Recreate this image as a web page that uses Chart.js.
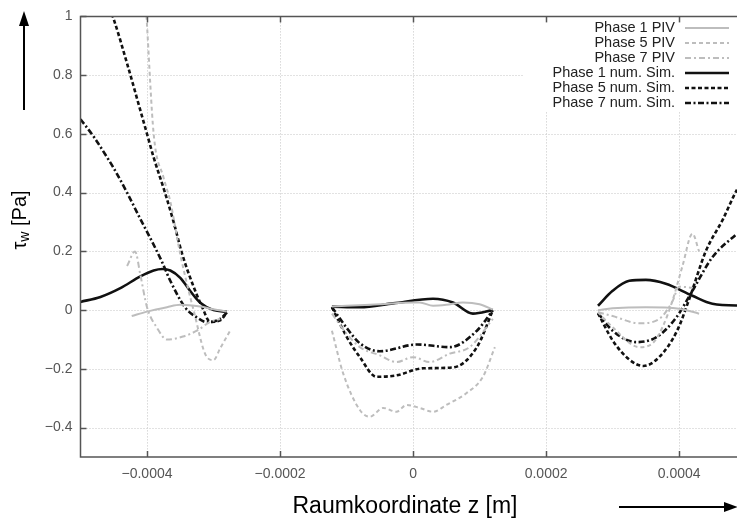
<!DOCTYPE html>
<html>
<head>
<meta charset="utf-8">
<script src="https://cdn.jsdelivr.net/npm/chart.js@4.4.1/dist/chart.umd.min.js"></script>
<style>
  html, body { margin: 0; padding: 0; background: #fff; }
  #wrap { width: 737px; height: 520px; position: relative; }
</style>
</head>
<body>
<div id="wrap"><canvas id="tau-chart"></canvas></div>
<script>
// Achsen-Ticks
const xTicks = [-0.0004, -0.0002, 0, 0.0002, 0.0004];
const yTicks = [-0.4, -0.2, 0, 0.2, 0.4, 0.6, 0.8, 1];

// Legende
const seriesNames = ["Phase 1 PIV", "Phase 5 PIV", "Phase 7 PIV",
                     "Phase 1 num. Sim.", "Phase 5 num. Sim.", "Phase 7 num. Sim."];

// Messwerte (z in m, tau in Pa), null = Lücke zwischen den Abschnitten
const piv1Z   = [-0.000423, -0.0004, -0.00037, -0.00035, -0.00032, -0.0003, -0.00028, null,
                 -0.000122, -0.0001, -0.00005, 0, 0.00001, 0.00003, 0.00005, 0.000075, 0.0001, 0.00012, null,
                 0.000278, 0.0003, 0.00035, 0.0004, 0.00043];
const piv1Tau = [-0.02, -0.005, 0.01, 0.018, 0.012, 0.003, -0.005, null,
                 0.012, 0.015, 0.02, 0.026, 0.026, 0.015, 0.018, 0.026, 0.02, 0.002, null,
                 0, 0.006, 0.01, 0.005, -0.012];

const piv5Z   = [-0.000402, -0.0004, -0.00039, -0.000375, -0.000365, -0.00035, -0.00033, -0.00031, -0.0003, -0.00029, -0.000275, null,
                 -0.000122, -0.000105, -0.00008, -0.000065, -0.000045, -0.000025, -0.00001, 0.00001, 0.00003, 0.00005, 0.00008, 0.000105, 0.000123, null,
                 0.000278, 0.0003, 0.00034, 0.00036, 0.000375, 0.00039, 0.000405, 0.00042, 0.00043];
const piv5Tau = [1.05, 0.97, 0.6, 0.45, 0.37, 0.19, 0.0, -0.16, -0.17, -0.13, -0.07, null,
                 -0.07, -0.216, -0.34, -0.363, -0.333, -0.346, -0.323, -0.333, -0.346, -0.323, -0.283, -0.227, -0.126, null,
                 -0.007, -0.058, -0.126, -0.113, -0.058, 0.032, 0.15, 0.26, 0.2];

const piv7Z   = [-0.00043, -0.000418, -0.00041, -0.0004, -0.000385, -0.00037, -0.000346, -0.000325, -0.000305, -0.00029, null,
                 -0.000122, -0.0001, -0.00008, -0.00005, -0.000025, 0, 0.000025, 0.000055, 0.000085, 0.00012, null,
                 0.000278, 0.0003, 0.00034, 0.00037, 0.00039, 0.0004, 0.00042];
const piv7Tau = [0.15, 0.2, 0.12, 0.01, -0.06, -0.1, -0.09, -0.07, -0.04, -0.03, null,
                 -0.012, -0.08, -0.126, -0.154, -0.177, -0.16, -0.177, -0.148, -0.126, -0.03, null,
                 -0.007, -0.02, -0.045, -0.03, 0.03, 0.08, 0.076];

// Simulation
const sim1Z   = [-0.0005, -0.00047, -0.00044, -0.00041, -0.00039, -0.000377, -0.000365, -0.00035, -0.000335, -0.00032, -0.0003, -0.00028, null,
                 -0.000122, -0.00008, -0.00003, 0.00003, 0.00006, 0.00009, 0.00012, null,
                 0.000278, 0.0003, 0.000325, 0.00035, 0.00038, 0.00042, 0.00045, 0.0005];
const sim1Tau = [0.028, 0.045, 0.075, 0.115, 0.135, 0.14, 0.135, 0.11, 0.065, 0.025, 0.0, -0.005, null,
                 0.012, 0.01, 0.023, 0.039, 0.026, -0.012, 0.0, null,
                 0.015, 0.066, 0.1, 0.103, 0.09, 0.049, 0.022, 0.015];

const sim5Z   = [-0.00046, -0.00045, -0.00043, -0.00041, -0.0004, -0.00039, -0.000373, -0.00036, -0.000347, -0.00033, -0.000317, -0.000305, -0.00029, -0.00028, null,
                 -0.000122, -0.0001, -0.00008, -0.000055, -0.000025, 0.000015, 0.00006, 0.000096, 0.00012, null,
                 0.000278, 0.0003, 0.000326, 0.000346, 0.00037, 0.000397, 0.000416, 0.00044, 0.000466, 0.000487, 0.0005];
const sim5Tau = [1.05, 0.99, 0.84, 0.68, 0.6, 0.52, 0.4, 0.3, 0.19, 0.08, 0.01, -0.04, -0.035, -0.008, null,
                 0.01, -0.09, -0.16, -0.227, -0.222, -0.198, -0.195, -0.126, 0.0, null,
                 -0.01, -0.103, -0.17, -0.19, -0.16, -0.07, 0.043, 0.2, 0.31, 0.41, 0.45];

const sim7Z   = [-0.0005, -0.00048, -0.00046, -0.00045, -0.00043, -0.00041, -0.000398, -0.000378, -0.000365, -0.000343, -0.000325, -0.00031, -0.00029, -0.00028, null,
                 -0.000122, -0.0001, -0.00008, -0.00005, 0.000006, 0.000055, 0.000096, 0.00012, null,
                 0.000278, 0.0003, 0.000336, 0.000366, 0.000396, 0.00042, 0.00045, 0.000487, 0.0005];
const sim7Tau = [0.65, 0.59, 0.52, 0.483, 0.4, 0.31, 0.258, 0.167, 0.1, 0.01, -0.025, -0.041, -0.03, -0.008, null,
                 0.01, -0.06, -0.113, -0.14, -0.117, -0.126, -0.07, 0.0, null,
                 -0.01, -0.07, -0.109, -0.092, -0.024, 0.066, 0.18, 0.26, 0.285];

function toPoints(zs, ts) {
    let pts = [];
    for (let i = 0; i < zs.length; i++) {
        if (ts[i] === null) pts.push({ x: zs[i - 1], y: null });
        else pts.push({ x: zs[i], y: ts[i] });
    }
    return pts;
}

const GRAY = "#bdbdbd";
const BLACK = "#111111";
const styles = [
    { color: GRAY,  width: 2,   dash: [] },
    { color: GRAY,  width: 2,   dash: [4, 3] },
    { color: GRAY,  width: 2,   dash: [6, 3, 2, 3] },
    { color: BLACK, width: 2.6, dash: [] },
    { color: BLACK, width: 2.6, dash: [4, 2.5] },
    { color: BLACK, width: 2.6, dash: [6, 2.5, 2, 2.5] }
];
const allData = [toPoints(piv1Z, piv1Tau), toPoints(piv5Z, piv5Tau), toPoints(piv7Z, piv7Tau),
                 toPoints(sim1Z, sim1Tau), toPoints(sim5Z, sim5Tau), toPoints(sim7Z, sim7Tau)];

const datasets = seriesNames.map((name, i) => ({
    label: name,
    data: allData[i],
    borderColor: styles[i].color,
    borderWidth: styles[i].width,
    borderDash: styles[i].dash,
    pointRadius: 0,
    fill: false,
    spanGaps: false,
    cubicInterpolationMode: 'monotone',
    clip: 0
}));

const minus = s => s.replace('-', '\u2212');

// Gitter, Rahmen, Legende und Achsentitel im gnuplot-Stil
const frame = {
    id: 'frame',
    beforeDatasetsDraw(chart) {
        const { ctx, chartArea: a, scales: { x, y } } = chart;
        ctx.save();
        ctx.strokeStyle = "#c4c4c4";
        ctx.lineWidth = 1;
        ctx.setLineDash([1, 2]);
        xTicks.forEach(v => {
            const px = Math.round(x.getPixelForValue(v)) + 0.5;
            ctx.beginPath(); ctx.moveTo(px, a.top); ctx.lineTo(px, a.bottom); ctx.stroke();
        });
        yTicks.forEach(v => {
            if (v === 1) return;
            const py = Math.round(y.getPixelForValue(v)) + 0.5;
            ctx.beginPath(); ctx.moveTo(a.left, py); ctx.lineTo(a.right, py); ctx.stroke();
        });
        ctx.setLineDash([]);
        // Legendenhintergrund
        ctx.fillStyle = "#fff";
        ctx.fillRect(523, 18, 220, 93);
        ctx.restore();
    },
    afterDatasetsDraw(chart) {
        const { ctx, chartArea: a, scales: { x, y } } = chart;
        ctx.save();
        ctx.strokeStyle = "#555";
        ctx.lineWidth = 1.5;
        ctx.beginPath();
        ctx.moveTo(a.right + 10, a.top); ctx.lineTo(a.left, a.top);
        ctx.lineTo(a.left, a.bottom); ctx.lineTo(a.right + 10, a.bottom);
        ctx.stroke();
        ctx.lineWidth = 1.5;
        xTicks.forEach(v => {
            const px = Math.round(x.getPixelForValue(v)) + 0.5;
            ctx.beginPath(); ctx.moveTo(px, a.bottom); ctx.lineTo(px, a.bottom - 6); ctx.stroke();
            ctx.beginPath(); ctx.moveTo(px, a.top); ctx.lineTo(px, a.top + 6); ctx.stroke();
        });
        yTicks.forEach(v => {
            const py = Math.round(y.getPixelForValue(v)) + 0.5;
            ctx.beginPath(); ctx.moveTo(a.left, py); ctx.lineTo(a.left + 6, py); ctx.stroke();
        });
        ctx.restore();
    },
    afterDraw(chart) {
        const ctx = chart.ctx;
        ctx.save();
        // Legende
        ctx.font = "14.5px 'Liberation Sans', Arial, sans-serif";
        ctx.textAlign = "right";
        ctx.textBaseline = "middle";
        seriesNames.forEach((name, i) => {
            const yy = 28 + i * 15;
            ctx.fillStyle = "#222";
            ctx.fillText(name, 675, yy);
            ctx.strokeStyle = styles[i].color;
            ctx.lineWidth = styles[i].width;
            ctx.setLineDash(styles[i].dash);
            ctx.beginPath(); ctx.moveTo(685, yy); ctx.lineTo(729, yy); ctx.stroke();
        });
        ctx.setLineDash([]);
        // x-Titel
        ctx.fillStyle = "#000";
        ctx.font = "23px 'Liberation Sans', Arial, sans-serif";
        ctx.textAlign = "center";
        ctx.fillText("Raumkoordinate z [m]", 405, 507);
        // y-Titel mit Index
        ctx.translate(20, 220);
        ctx.rotate(-Math.PI / 2);
        ctx.textAlign = "left";
        ctx.font = "20px 'Liberation Sans', Arial, sans-serif";
        const tw = ctx.measureText("\u03c4").width;
        ctx.font = "14px 'Liberation Sans', Arial, sans-serif";
        const ww = ctx.measureText("w").width;
        ctx.font = "20px 'Liberation Sans', Arial, sans-serif";
        const rw = ctx.measureText(" [Pa]").width;
        let sx = -(tw + ww + rw) / 2;
        ctx.fillText("\u03c4", sx, 0);
        ctx.font = "14px 'Liberation Sans', Arial, sans-serif";
        ctx.fillText("w", sx + tw, 5);
        ctx.font = "20px 'Liberation Sans', Arial, sans-serif";
        ctx.fillText(" [Pa]", sx + tw + ww, 0);
        ctx.setTransform(1, 0, 0, 1, 0, 0);
        // Pfeile
        ctx.strokeStyle = "#000";
        ctx.fillStyle = "#000";
        ctx.lineWidth = 2;
        ctx.beginPath(); ctx.moveTo(24, 110); ctx.lineTo(24, 22); ctx.stroke();
        ctx.beginPath(); ctx.moveTo(24, 11); ctx.lineTo(19, 26); ctx.lineTo(29, 26); ctx.closePath(); ctx.fill();
        ctx.beginPath(); ctx.moveTo(619, 507); ctx.lineTo(727, 507); ctx.stroke();
        ctx.beginPath(); ctx.moveTo(738, 507); ctx.lineTo(724, 502); ctx.lineTo(724, 512); ctx.closePath(); ctx.fill();
        ctx.restore();
    }
};

new Chart(document.getElementById("tau-chart"), {
    type: 'line',
    data: { datasets: datasets },
    options: {
        responsive: true,
        maintainAspectRatio: false,
        animation: false,
        layout: { padding: { top: 14, left: 0, right: 0, bottom: 0 } },
        plugins: { legend: { display: false }, tooltip: { enabled: false } },
        scales: {
            x: {
                type: 'linear',
                min: -0.0005,
                max: 0.000487,
                afterBuildTicks: s => { s.ticks = xTicks.map(v => ({ value: v })); },
                afterFit: s => { s.height = 63; },
                grid: { display: false, drawTicks: false },
                border: { display: false },
                ticks: {
                    padding: 9,
                    maxRotation: 0,
                    color: "#555",
                    font: { family: "'Liberation Sans', Arial, sans-serif", size: 14 },
                    callback: v => v === 0 ? "0" : minus(v.toFixed(4))
                }
            },
            y: {
                type: 'linear',
                min: -0.5,
                max: 1,
                afterBuildTicks: s => { s.ticks = yTicks.map(v => ({ value: v })); },
                afterFit: s => { s.width = 80.5; },
                grid: { display: false, drawTicks: false },
                border: { display: false },
                ticks: {
                    padding: 8,
                    color: "#555",
                    font: { family: "'Liberation Sans', Arial, sans-serif", size: 14 },
                    callback: v => v === 0 ? "0" : (v === 1 ? "1" : minus(v.toFixed(1)))
                }
            }
        }
    },
    plugins: [frame]
});
</script>
</body>
</html>
